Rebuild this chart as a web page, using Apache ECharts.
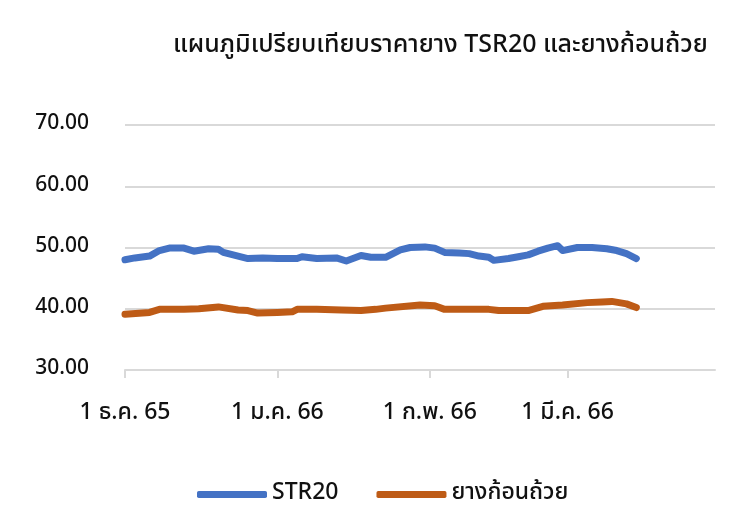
<!DOCTYPE html>
<html lang="th">
<head>
    <meta charset="UTF-8">
    <title>แผนภูมิเปรียบเทียบราคายาง</title>
    <script src="https://cdn.jsdelivr.net/npm/echarts@6.0.0/dist/echarts.min.js"></script>
    <style>
        body { margin: 0; background: #fff; }
    </style>
</head>
<body>
    <div id="chart" style="width: 745px; height: 528px;"></div>

    <script>
        var FONT = '"Noto Sans Thai", Tahoma, "Noto Sans", sans-serif';

        // STR20 (blue)
        var strDates = ['2022-12-01', '2022-12-03', '2022-12-06', '2022-12-08', '2022-12-10', '2022-12-13',
            '2022-12-15', '2022-12-18', '2022-12-20', '2022-12-21', '2022-12-24', '2022-12-26', '2022-12-29',
            '2023-01-01', '2023-01-05', '2023-01-06', '2023-01-09', '2023-01-13', '2023-01-15', '2023-01-18',
            '2023-01-20', '2023-01-23', '2023-01-26', '2023-01-28', '2023-01-31', '2023-02-02', '2023-02-04',
            '2023-02-07', '2023-02-09', '2023-02-11', '2023-02-13', '2023-02-14', '2023-02-17', '2023-02-19',
            '2023-02-21', '2023-02-23', '2023-02-25', '2023-02-27', '2023-02-28', '2023-03-03', '2023-03-06',
            '2023-03-09', '2023-03-11', '2023-03-13', '2023-03-15'];
        var strValues = [48.0, 48.3, 48.6, 49.5, 49.9, 49.9,
            49.4, 49.8, 49.7, 49.2, 48.6, 48.2, 48.3,
            48.2, 48.2, 48.5, 48.2, 48.3, 47.8, 48.7,
            48.4, 48.4, 49.6, 50.0, 50.1, 49.9, 49.2,
            49.1, 49.0, 48.6, 48.4, 47.9, 48.2, 48.5,
            48.8, 49.4, 49.9, 50.3, 49.5, 50.0, 50.0,
            49.8, 49.5, 49.0, 48.2];

        // ยางก้อนถ้วย (brown)
        var cupDates = ['2022-12-01', '2022-12-06', '2022-12-08', '2022-12-13', '2022-12-16', '2022-12-20',
            '2022-12-24', '2022-12-26', '2022-12-28', '2023-01-01', '2023-01-04', '2023-01-05', '2023-01-09',
            '2023-01-14', '2023-01-18', '2023-01-21', '2023-01-23', '2023-01-30', '2023-02-02', '2023-02-04',
            '2023-02-09', '2023-02-13', '2023-02-15', '2023-02-21', '2023-02-24', '2023-02-28', '2023-03-05',
            '2023-03-08', '2023-03-10', '2023-03-13', '2023-03-15'];
        var cupValues = [39.1, 39.4, 39.9, 39.9, 40.0, 40.3,
            39.8, 39.7, 39.3, 39.4, 39.5, 39.9, 39.9,
            39.8, 39.7, 39.9, 40.1, 40.6, 40.5, 39.9,
            39.9, 39.9, 39.7, 39.7, 40.4, 40.6, 41.0,
            41.1, 41.2, 40.8, 40.2];

        var tickDates = ['2022-12-01', '2023-01-01', '2023-02-01', '2023-03-01'];
        var tickLabels = ['1 ธ.ค. 65', '1 ม.ค. 66', '1 ก.พ. 66', '1 มี.ค. 66'];

        var START = '2022-12-01';
        var END = '2023-03-31';

        // days since START, so the x axis is a plain value axis in days
        function dayOf(s) {
            var p = s.split('-');
            var q = START.split('-');
            var t = Date.UTC(+p[0], +p[1] - 1, +p[2]) - Date.UTC(+q[0], +q[1] - 1, +q[2]);
            return Math.round(t / 86400000);
        }

        function pairs(dates, values) {
            return dates.map(function (d, i) { return [dayOf(d), values[i]]; });
        }

        var tickDays = tickDates.map(dayOf);

        var chart = echarts.init(document.getElementById('chart'));

        chart.setOption({
            animation: false,
            textStyle: { fontFamily: FONT },
            title: {
                text: 'แผนภูมิเปรียบเทียบราคายาง TSR20 และยางก้อนถ้วย',
                left: 168,
                top: 29,
                textStyle: { fontFamily: FONT, fontSize: 25, fontWeight: 500, color: '#111' }
            },
            legend: {
                bottom: 17,
                left: 192,
                icon: 'roundRect',
                itemWidth: 70,
                itemHeight: 7,
                itemGap: 38,
                textStyle: { fontFamily: FONT, fontSize: 23, fontWeight: 500, color: '#111' },
                data: ['STR20', 'ยางก้อนถ้วย']
            },
            grid: {
                left: 125,
                right: 30,
                top: 125,
                bottom: 158,
                containLabel: false,
                outerBoundsMode: 'none'
            },
            xAxis: {
                type: 'value',
                min: 0,
                max: dayOf(END),
                axisLine: { show: true, lineStyle: { color: '#d9d9d9', width: 2 } },
                axisTick: { show: true, length: 8, customValues: tickDays, lineStyle: { color: '#d9d9d9', width: 2 } },
                axisLabel: {
                    customValues: tickDays,
                    margin: 33,
                    fontFamily: FONT,
                    fontSize: 23,
                    fontWeight: 500,
                    color: '#111',
                    formatter: function (v) {
                        var i = tickDays.indexOf(v);
                        return i >= 0 ? tickLabels[i] : '';
                    }
                },
                splitLine: { show: false }
            },
            yAxis: {
                type: 'value',
                min: 30,
                max: 70,
                interval: 10,
                axisLine: { show: false },
                axisTick: { show: false },
                axisLabel: {
                    margin: 36,
                    fontFamily: FONT,
                    fontSize: 21,
                    fontWeight: 500,
                    color: '#111',
                    formatter: function (v) { return v.toFixed(2); }
                },
                splitLine: { lineStyle: { color: '#d9d9d9', width: 2 } }
            },
            series: [
                {
                    name: 'STR20',
                    type: 'line',
                    showSymbol: false,
                    symbol: 'none',
                    data: pairs(strDates, strValues),
                    lineStyle: { color: '#4472C4', width: 7, cap: 'round', join: 'round' },
                    itemStyle: { color: '#4472C4' }
                },
                {
                    name: 'ยางก้อนถ้วย',
                    type: 'line',
                    showSymbol: false,
                    symbol: 'none',
                    data: pairs(cupDates, cupValues),
                    lineStyle: { color: '#BE5B16', width: 7, cap: 'round', join: 'round' },
                    itemStyle: { color: '#BE5B16' }
                }
            ]
        });
    </script>
</body>
</html>
